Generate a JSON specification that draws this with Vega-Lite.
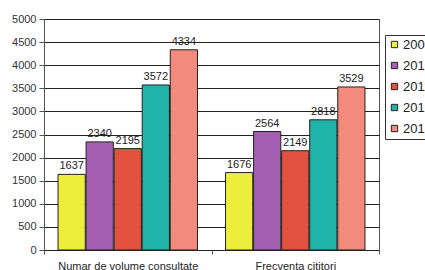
{
  "$schema": "https://vega.github.io/schema/vega-lite/v6.json",
  "width": 335,
  "height": 231,
  "autosize": {"type": "none"},
  "padding": {"left": 44, "top": 19, "right": 46, "bottom": 20},
  "background": "white",
  "config": {
    "font": "Liberation Sans",
    "view": {"stroke": "#555", "strokeWidth": 1}
  },
  "data": {
    "values": [
      {"cat": "Numar de volume consultate", "year": "2009", "value": 1637},
      {"cat": "Numar de volume consultate", "year": "2010", "value": 2340},
      {"cat": "Numar de volume consultate", "year": "2011", "value": 2195},
      {"cat": "Numar de volume consultate", "year": "2012", "value": 3572},
      {"cat": "Numar de volume consultate", "year": "2013", "value": 4334},
      {"cat": "Frecventa cititori", "year": "2009", "value": 1676},
      {"cat": "Frecventa cititori", "year": "2010", "value": 2564},
      {"cat": "Frecventa cititori", "year": "2011", "value": 2149},
      {"cat": "Frecventa cititori", "year": "2012", "value": 2818},
      {"cat": "Frecventa cititori", "year": "2013", "value": 3529}
    ]
  },
  "encoding": {
    "x": {
      "field": "cat", "type": "nominal", "sort": null, "title": null,
      "scale": {"paddingInner": 0, "paddingOuter": 0},
      "axis": {"labelAngle": 0, "labelFontSize": 11, "labelColor": "#222", "domain": false, "tickBand": "extent", "tickColor": "#555", "tickSize": 4, "labelPadding": 6}
    },
    "xOffset": {"field": "year", "type": "nominal", "scale": {"paddingInner": 0.03, "paddingOuter": 0.5}},
    "y": {
      "field": "value", "type": "quantitative", "title": null,
      "scale": {"domain": [0, 5000]},
      "axis": {"values": [0,500,1000,1500,2000,2500,3000,3500,4000,4500,5000], "format": "d", "labelFontSize": 11, "labelColor": "#333", "gridColor": "#222", "gridWidth": 1, "domainColor": "#555", "tickColor": "#555", "tickSize": 5, "labelPadding": 3}
    }
  },
  "layer": [
    {
      "mark": {"type": "bar", "stroke": "#222", "strokeWidth": 1},
      "encoding": {
        "color": {
          "field": "year", "type": "nominal", "title": null,
          "scale": {"domain": ["2009","2010","2011","2012","2013"], "range": ["#eded3c", "#a45fb2", "#e2523f", "#1fb3a9", "#f28b7c"]},
          "legend": {
            "orient": "none", "legendX": 341, "legendY": 16,
            "symbolType": "square", "symbolSize": 40, "symbolStrokeColor": "#222", "symbolStrokeWidth": 1,
            "labelFontSize": 13, "labelColor": "#222", "rowPadding": 7, "labelOffset": 2,
            "strokeColor": "#333", "padding": 3, "fillColor": "white"
          }
        }
      }
    },
    {
      "mark": {"type": "text", "dy": -8, "fontSize": 11, "color": "#222"},
      "encoding": {"text": {"field": "value", "type": "quantitative"}}
    }
  ]
}
